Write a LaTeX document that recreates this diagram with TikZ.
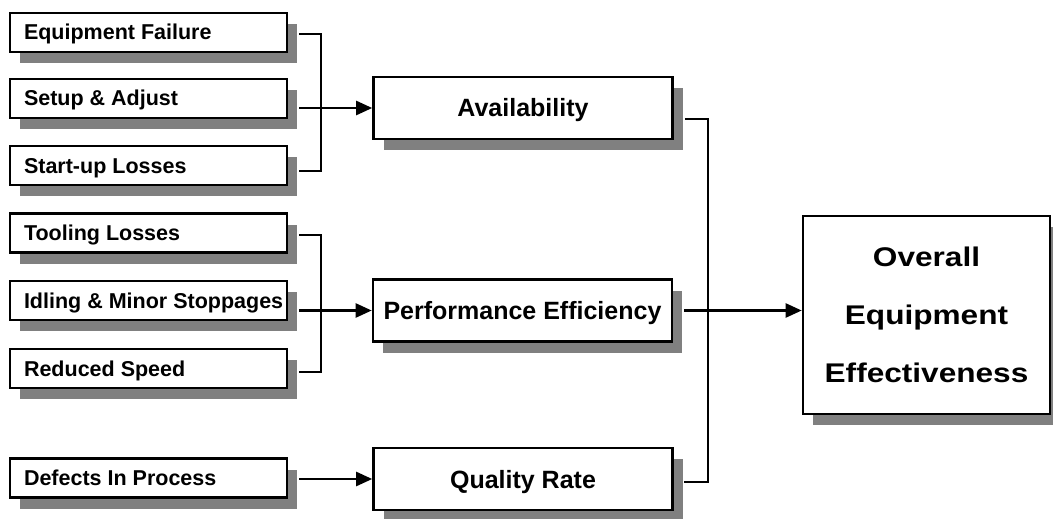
\documentclass[tikz,border=0pt]{standalone}
\usepackage{fontspec}
\setmainfont{Liberation Sans}
\newfontfamily\oeefont[FakeStretch=1.17]{Liberation Sans}
\usetikzlibrary{arrows.meta,shadows,calc}
\newcommand\lbx[1]{\makebox[249pt][l]{#1}}
\begin{document}
\begin{tikzpicture}[x=1pt,y=-1pt,
  box/.style={draw, line width=2.6pt, fill=white,
    drop shadow={shadow xshift=10pt,shadow yshift=-11pt,fill=black!50,opacity=1}},
  small/.style={box, minimum width=277pt, minimum height=39pt, inner xsep=14pt, inner ysep=0pt,
    text height=15pt, text depth=0pt, font=\fontsize{21.5pt}{25pt}\selectfont\bfseries},
  mid/.style={box, minimum width=299pt, minimum height=62pt, inner sep=0pt,
    text height=18pt, text depth=0pt, font=\fontsize{25pt}{30pt}\selectfont\bfseries},
  oeebox/.style={box, minimum width=247pt, minimum height=198pt, align=center,
    font=\oeefont\fontsize{27pt}{58pt}\selectfont\bfseries},
  ln/.style={line width=2.4pt},
  arr/.style={ln, -{Triangle[length=16pt,width=14pt]}}
]
\useasboundingbox (0,0) rectangle (1053,519);

\node[small] (ef) at (148.5,32.5) {\lbx{Equipment Failure}};
\node[small] (sa) at (148.5,98.5) {\lbx{Setup \& Adjust}};
\node[small] (su) at (148.5,165.5) {\lbx{Start-up Losses}};
\node[small] (tl) at (148.5,233) {\lbx{Tooling Losses}};
\node[small] (im) at (148.5,300.5) {\lbx{Idling \& Minor Stoppages}};
\node[small] (rs) at (148.5,368.5) {\lbx{Reduced Speed}};
\node[small] (dp) at (148.5,478) {\lbx{Defects In Process}};

\node[mid] (av) at (523,108) {Availability};
\node[mid] (pe) at (522.5,310.5) {Performance Efficiency};
\node[mid] (qr) at (523,479) {Quality Rate};

\node[oeebox] (oee) at (926.5,315) {Overall\\Equipment\\Effectiveness};

\coordinate (b1) at (321,0);
\coordinate (b2) at (708,0);

% group 1
\coordinate (efo) at ($(ef.east)+(11,1.5)$);
\coordinate (suo) at ($(su.east)+(11,5.5)$);
\coordinate (sao) at ([xshift=11pt]sa.east);
\draw[ln] (efo) -- (efo -| b1) -- (suo -| b1) -- (suo);
\draw[arr] (sao |- av.west) -- (av.west);

% group 2
\coordinate (tlo) at ($(tl.east)+(11,2)$);
\coordinate (rso) at ($(rs.east)+(11,3.5)$);
\coordinate (imo) at ([xshift=11pt]im.east);
\draw[ln] (tlo) -- (tlo -| b1) -- (rso -| b1) -- (rso);
\draw[arr] (imo |- pe.west) -- (pe.west);

% group 3
\coordinate (dpo) at ([xshift=11pt]dp.east);
\draw[arr] (dpo |- qr.west) -- (qr.west);

% right side
\coordinate (avo) at ($(av.east)+(11,11)$);
\coordinate (qro) at ($(qr.east)+(10,3)$);
\coordinate (peo) at ([xshift=11pt]pe.east);
\draw[ln] (avo) -- (avo -| b2) -- (qro -| b2) -- (qro);
\draw[arr] (peo) -- (peo -| oee.west);
\end{tikzpicture}
\end{document}
